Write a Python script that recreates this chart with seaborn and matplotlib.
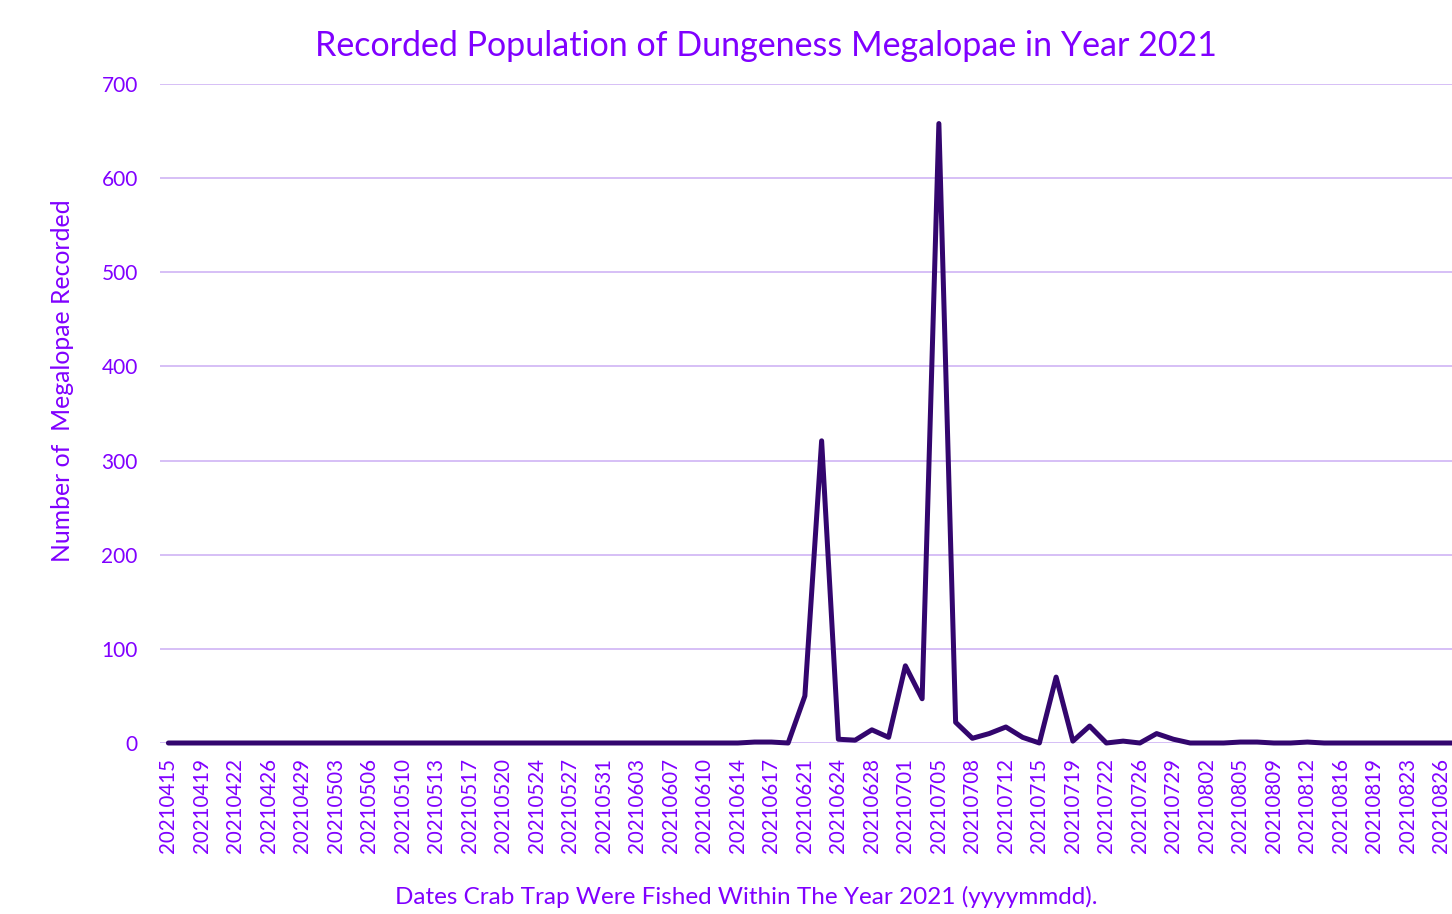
import matplotlib
matplotlib.use("Agg")
import matplotlib.pyplot as plt
import pandas as pd
import seaborn as sns

sns.set_theme(style="white")
plt.rcParams['font.family'] = ['Lato', 'DejaVu Sans']

# every trap date (only every second one is labelled on the axis)
dates = [
    "20210415", "20210417", "20210419", "20210420", "20210422", "20210424",
    "20210426", "20210427", "20210429", "20210501", "20210503", "20210504",
    "20210506", "20210508", "20210510", "20210511", "20210513", "20210515",
    "20210517", "20210518", "20210520", "20210522", "20210524", "20210525",
    "20210527", "20210529", "20210531", "20210601", "20210603", "20210605",
    "20210607", "20210608", "20210610", "20210612", "20210614", "20210615",
    "20210617", "20210619", "20210621", "20210622", "20210624", "20210626",
    "20210628", "20210629", "20210701", "20210703", "20210705", "20210706",
    "20210708", "20210710", "20210712", "20210713", "20210715", "20210717",
    "20210719", "20210720", "20210722", "20210724", "20210726", "20210727",
    "20210729", "20210731", "20210802", "20210803", "20210805", "20210807",
    "20210809", "20210810", "20210812", "20210814", "20210816", "20210817",
    "20210819", "20210821", "20210823", "20210824", "20210826", "20210828",
]

megalopae = [
    0, 0, 0, 0, 0, 0, 0, 0, 0, 0, 0, 0,
    0, 0, 0, 0, 0, 0, 0, 0, 0, 0, 0, 0,
    0, 0, 0, 0, 0, 0, 0, 0, 0, 0, 0, 1,
    1, 0, 50, 321, 4, 3, 14, 6, 82, 47, 658, 22,
    5, 10, 17, 6, 0, 70, 2, 18, 0, 2, 0, 10,
    4, 0, 0, 0, 1, 1, 0, 0, 1, 0, 0, 0,
    0, 0, 0, 0, 0, 0,
]

text_col = "#8000ff"
line_col = "#33066e"
grid_col = "#d6bff6"

df = pd.DataFrame({"pos": range(len(dates)), "count": megalopae})

fig = plt.figure(figsize=(14.52, 9.14), dpi=100)
# plot area runs past the right edge of the picture, as in the original
ax = fig.add_axes([160 / 1452, 171 / 914, 1306.5 / 1452, 659 / 914])

sns.lineplot(data=df, x="pos", y="count", color=line_col, linewidth=3.6,
             ax=ax, solid_capstyle="round", solid_joinstyle="round",
             clip_on=False)

ax.set_xlim(-0.5, len(dates) - 0.5)
ax.set_ylim(0, 700)
ax.set_yticks(range(0, 701, 100))
ax.yaxis.grid(True, color=grid_col, linewidth=1.4)
ax.set_axisbelow(True)
for s in ax.spines.values():
    s.set_visible(False)
ax.axhline(0, color=grid_col, linewidth=1.4, zorder=0)

ax.set_xticks(range(0, len(dates), 2))
ax.set_xticklabels(dates[::2], rotation=90)
ax.tick_params(axis="x", length=0, pad=11, labelsize=14.8, labelcolor=text_col)
ax.tick_params(axis="y", length=0, pad=16, labelsize=15, labelcolor=text_col)
ax.set_xlabel("")
ax.set_ylabel("")

fig.text(766 / 1452, 1 - 46 / 914,
         "Recorded Population of Dungeness Megalopae in Year 2021",
         ha="center", va="center", fontsize=24.5, color=text_col)
fig.text(746 / 1452, 1 - 897 / 914,
         "Dates Crab Trap Were Fished Within The Year 2021 (yyyymmdd).",
         ha="center", va="center", fontsize=17.5, color=text_col)
fig.text(63 / 1452, 1 - 381 / 914, "Number of  Megalopae Recorded",
         ha="center", va="center", rotation=90, fontsize=17.8, color=text_col)

fig.savefig("out.png", dpi=100, facecolor="white")
